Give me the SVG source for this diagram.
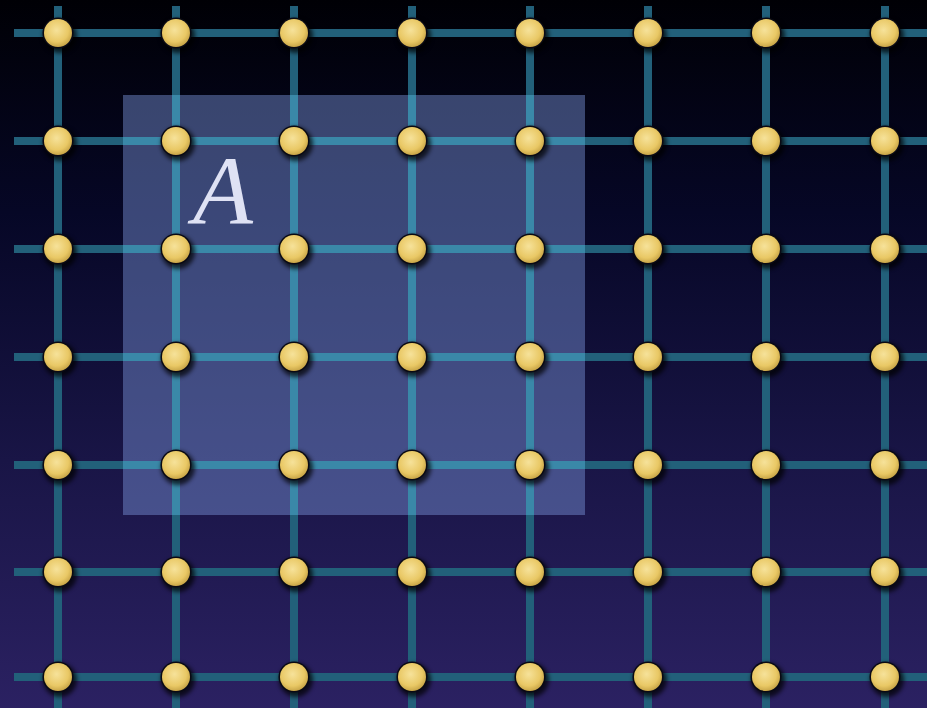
<svg xmlns="http://www.w3.org/2000/svg" width="927" height="708" viewBox="0 0 927 708">
<defs>
<linearGradient id="bg" x1="0" y1="0" x2="0" y2="1">
<stop offset="0" stop-color="#000005"/>
<stop offset="0.3" stop-color="#060726"/>
<stop offset="0.65" stop-color="#191546"/>
<stop offset="1" stop-color="#2b2162"/>
</linearGradient>
<radialGradient id="dot" cx="0.45" cy="0.4" r="0.6">
<stop offset="0" stop-color="#f6e29a"/>
<stop offset="0.7" stop-color="#e9c865"/>
<stop offset="1" stop-color="#c9a648"/>
</radialGradient>
<filter id="sh" x="-50%" y="-50%" width="200%" height="200%">
<feGaussianBlur stdDeviation="2"/>
</filter>
<clipPath id="rc"><rect x="123" y="95" width="462" height="420"/></clipPath>
<g id="node">
<circle cx="2" cy="3" r="17" fill="#000" opacity="0.7" filter="url(#sh)"/>
<circle r="15.5" fill="#0a0a14"/>
<circle r="14" fill="url(#dot)"/>
</g>
<path id="grid" d="M14,33H927M14,141H927M14,249H927M14,357H927M14,465H927M14,572H927M14,677H927M58,6V708M176,6V708M294,6V708M412,6V708M530,6V708M648,6V708M766,6V708M885,6V708"/>
</defs>
<style>
.ln{stroke:#22607a;stroke-width:8;fill:none}
.lin{stroke:#3a88a8;stroke-width:8;fill:none}
.t{font-family:"Liberation Serif","Times New Roman",serif;font-style:italic;font-size:98px;fill:#dfe2f4}
</style>
<rect width="927" height="708" fill="url(#bg)"/>
<g id="connectors">
<use href="#grid" class="ln"/>
</g>
<g id="region-A">
<rect x="123" y="95" width="462" height="420" fill="#7690d4" opacity="0.47"/>
<use href="#grid" class="lin" clip-path="url(#rc)"/>
<text class="t" x="193" y="223">A</text>
</g>
<g id="nodes">
<g id="r1"><use href="#node" x="58" y="33"/><use href="#node" x="176" y="33"/><use href="#node" x="294" y="33"/><use href="#node" x="412" y="33"/><use href="#node" x="530" y="33"/><use href="#node" x="648" y="33"/><use href="#node" x="766" y="33"/><use href="#node" x="885" y="33"/></g>
<g id="r2"><use href="#node" x="58" y="141"/><use href="#node" x="176" y="141"/><use href="#node" x="294" y="141"/><use href="#node" x="412" y="141"/><use href="#node" x="530" y="141"/><use href="#node" x="648" y="141"/><use href="#node" x="766" y="141"/><use href="#node" x="885" y="141"/></g>
<g id="r3"><use href="#node" x="58" y="249"/><use href="#node" x="176" y="249"/><use href="#node" x="294" y="249"/><use href="#node" x="412" y="249"/><use href="#node" x="530" y="249"/><use href="#node" x="648" y="249"/><use href="#node" x="766" y="249"/><use href="#node" x="885" y="249"/></g>
<g id="r4"><use href="#node" x="58" y="357"/><use href="#node" x="176" y="357"/><use href="#node" x="294" y="357"/><use href="#node" x="412" y="357"/><use href="#node" x="530" y="357"/><use href="#node" x="648" y="357"/><use href="#node" x="766" y="357"/><use href="#node" x="885" y="357"/></g>
<g id="r5"><use href="#node" x="58" y="465"/><use href="#node" x="176" y="465"/><use href="#node" x="294" y="465"/><use href="#node" x="412" y="465"/><use href="#node" x="530" y="465"/><use href="#node" x="648" y="465"/><use href="#node" x="766" y="465"/><use href="#node" x="885" y="465"/></g>
<g id="r6"><use href="#node" x="58" y="572"/><use href="#node" x="176" y="572"/><use href="#node" x="294" y="572"/><use href="#node" x="412" y="572"/><use href="#node" x="530" y="572"/><use href="#node" x="648" y="572"/><use href="#node" x="766" y="572"/><use href="#node" x="885" y="572"/></g>
<g id="r7"><use href="#node" x="58" y="677"/><use href="#node" x="176" y="677"/><use href="#node" x="294" y="677"/><use href="#node" x="412" y="677"/><use href="#node" x="530" y="677"/><use href="#node" x="648" y="677"/><use href="#node" x="766" y="677"/><use href="#node" x="885" y="677"/></g>
</g>
</svg>
